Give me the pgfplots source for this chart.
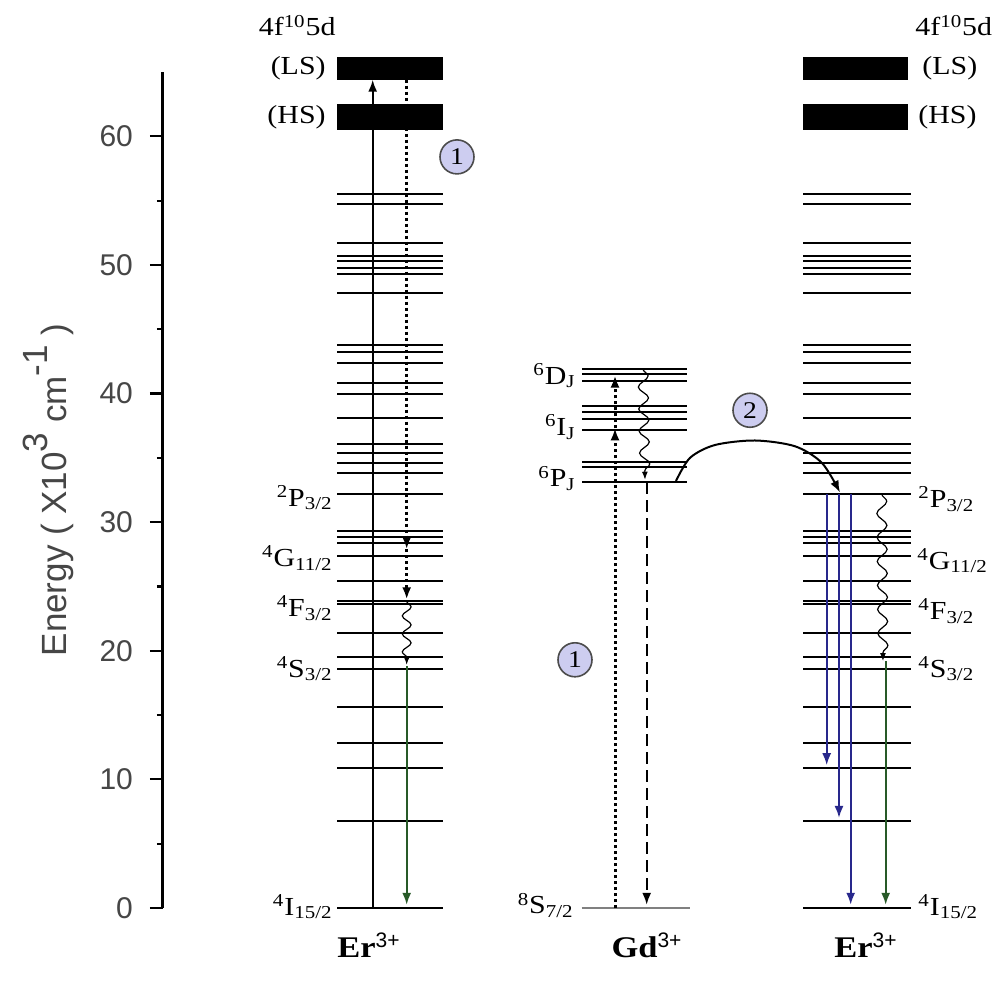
\documentclass[border=0pt]{standalone}
\usepackage{pgfplots}
\usepackage{pgfplotstable}
\pgfplotsset{compat=1.18}
\usepackage{fontspec}
\setmainfont[FakeStretch=1.15]{Liberation Serif}
\newfontfamily\arial{Liberation Sans}
\usetikzlibrary{arrows.meta,decorations.pathmorphing}
\definecolor{lav}{RGB}{205,205,240}
\definecolor{myblue}{RGB}{40,40,140}
\definecolor{mygreen}{RGB}{40,90,40}
\definecolor{txtgray}{RGB}{70,70,70}
\pgfplotstableread{
y
0
6.8
10.9
12.8
15.6
18.55
19.5
21.4
23.6
23.85
25.45
27.4
28.4
28.85
29.3
32.2
33.8
34.6
35.4
36.1
38.1
40.0
40.8
42.4
43.2
43.8
47.8
49.3
49.75
50.3
50.7
51.7
54.7
55.5
}\erlevels
\pgfplotstableread{
y
33.1
34.27
34.65
37.15
38.05
38.6
39.0
40.96
41.5
41.87
}\gdlevels
\begin{document}
\begin{tikzpicture}[
  lab/.style={font=\fontsize{13}{15}\selectfont, inner sep=0pt},
  ar/.style={-{Latex[length=6pt,width=4.5pt]}},
  dots/.style={line width=1.5pt, dash pattern=on 1.4pt off 1.6pt},
  wavy/.style={decorate, decoration={snake, amplitude=2.2pt, segment length=9pt, post length=3pt}},
  lvl/.style={only marks, mark=*, mark size=0pt, mark options={draw=none, fill=none}}]
\begin{axis}[
  scale only axis, width=419pt, height=418pt,
  xmin=163, xmax=1001, ymin=0, ymax=65,
  clip=false,
  axis x line=none, axis y line=left,
  axis line style={-, line width=1.5pt},
  ytick={0,10,...,60}, minor ytick={5,15,...,55},
  tick align=outside, major tick length=6.5pt, minor tick length=3pt,
  every tick/.style={line width=1.1pt, black},
  /pgf/number format/assume math mode=true,
  yticklabel style={font=\arial\fontsize{15}{17}\selectfont, text=txtgray, xshift=-5pt},
  ylabel={\arial Energy ( X10\raisebox{0.55em}{3} cm\raisebox{0.55em}{-1} )},
  ylabel style={font=\arial\fontsize{17.5}{20}\selectfont, text=txtgray, yshift=6pt},
]
\path (axis cs:0,70.6) rectangle (axis cs:1001,-5.91);
% Er levels (left and right), Gd levels
\addplot[lvl, error bars/.cd, x dir=both, x fixed=53, error mark=none,
  error bar style={black, line width=1pt}] table[x expr=390, y=y] {\erlevels};
\addplot[lvl, error bars/.cd, x dir=both, x fixed=54, error mark=none,
  error bar style={black, line width=1pt}] table[x expr=857, y=y] {\erlevels};
\addplot[lvl, error bars/.cd, x dir=both, x fixed=52.7, error mark=none,
  error bar style={black, line width=1pt}] table[x expr=634.3, y=y] {\gdlevels};
\addplot[gray, line width=1.1pt] coordinates {(581.7,0) (690,0)};
% 4f105d bands
\addplot[fill=black, draw=none] coordinates {(337,60.5) (443,60.5) (443,62.5) (337,62.5)};
\addplot[fill=black, draw=none] coordinates {(337,64.4) (443,64.4) (443,66.2) (337,66.2)};
\addplot[fill=black, draw=none] coordinates {(803,60.5) (908,60.5) (908,62.5) (803,62.5)};
\addplot[fill=black, draw=none] coordinates {(803,64.4) (908,64.4) (908,66.2) (803,66.2)};
% left Er transitions
\addplot[ar, line width=0.9pt] coordinates {(372.7,0) (372.7,64.4)};
\addplot[ar, dots] coordinates {(406.7,64.4) (406.7,27.9)};
\addplot[ar, dots] coordinates {(406.7,27.9) (406.7,24.0)};
\addplot[wavy, line width=0.6pt, -{Latex[length=4pt,width=3pt]}] coordinates {(406.7,23.85) (406.7,18.9)};
\addplot[ar, mygreen, line width=0.9pt] coordinates {(406.7,18.8) (406.7,0.25)};
% Gd transitions
\addplot[ar, dots] coordinates {(615,0) (615,37.3)};
\addplot[ar, dots] coordinates {(615,37.3) (615,41.4)};
\addplot[wavy, line width=0.6pt, decoration={amplitude=2.5pt, segment length=11pt}, -{Latex[length=4pt,width=3pt]}] coordinates {(643,41.9) (645,33.3)};
\addplot[ar, line width=0.9pt, dash pattern=on 6pt off 3pt] coordinates {(646.7,33.1) (646.7,0.25)};
% energy transfer
\addplot[ar, smooth, line width=1pt] coordinates {(676,33.2) (690,35.0) (715,36.0) (755,36.35) (795,35.9) (822,34.6) (840,32.3)};
% right Er transitions
\addplot[ar, myblue, line width=1pt] coordinates {(826.7,32.2) (826.7,11.1)};
\addplot[ar, myblue, line width=1pt] coordinates {(839,32.2) (839,7.0)};
\addplot[ar, myblue, line width=1pt] coordinates {(850.7,32.2) (850.7,0.25)};
\addplot[wavy, line width=0.6pt, decoration={amplitude=2.5pt, segment length=12pt}, -{Latex[length=4pt,width=3pt]}] coordinates {(881.7,32.2) (883,19.2)};
\addplot[ar, mygreen, line width=0.9pt] coordinates {(885.7,19.2) (885.7,0.25)};
% circled numbers
\node[circle, draw=black!70, line width=0.8pt, fill=lav, minimum size=17pt, inner sep=0pt, font=\fontsize{12}{14}\selectfont] at (axis cs:457,58.4) {1};
\node[circle, draw=black!70, line width=0.8pt, fill=lav, minimum size=17pt, inner sep=0pt, font=\fontsize{12}{14}\selectfont] at (axis cs:575,19.3) {1};
\node[circle, draw=black!70, line width=0.8pt, fill=lav, minimum size=17pt, inner sep=0pt, font=\fontsize{12}{14}\selectfont] at (axis cs:750,38.7) {2};
% left labels
\node[lab, anchor=east] at (axis cs:336,68.6) {4f\textsuperscript{10}5d};
\node[lab, anchor=east] at (axis cs:326,65.3) {(LS)};
\node[lab, anchor=east] at (axis cs:326,61.5) {(HS)};
\node[lab, anchor=east] at (axis cs:333,31.9) {\textsuperscript{2}P\textsubscript{3/2}};
\node[lab, anchor=east] at (axis cs:333,27.2) {\textsuperscript{4}G\textsubscript{11/2}};
\node[lab, anchor=east] at (axis cs:333,23.3) {\textsuperscript{4}F\textsubscript{3/2}};
\node[lab, anchor=east] at (axis cs:333,18.6) {\textsuperscript{4}S\textsubscript{3/2}};
\node[lab, anchor=east] at (axis cs:333,0.1) {\textsuperscript{4}I\textsubscript{15/2}};
% Gd labels
\node[lab, anchor=east] at (axis cs:576,41.4) {\textsuperscript{6}D\textsubscript{J}};
\node[lab, anchor=east] at (axis cs:576,37.4) {\textsuperscript{6}I\textsubscript{J}};
\node[lab, anchor=east] at (axis cs:576,33.4) {\textsuperscript{6}P\textsubscript{J}};
\node[lab, anchor=east] at (axis cs:574,0.2) {\textsuperscript{8}S\textsubscript{7/2}};
% right labels
\node[lab, anchor=west] at (axis cs:915,68.6) {4f\textsuperscript{10}5d};
\node[lab, anchor=west] at (axis cs:922,65.3) {(LS)};
\node[lab, anchor=west] at (axis cs:918,61.5) {(HS)};
\node[lab, anchor=west] at (axis cs:918,31.8) {\textsuperscript{2}P\textsubscript{3/2}};
\node[lab, anchor=west] at (axis cs:917,27.0) {\textsuperscript{4}G\textsubscript{11/2}};
\node[lab, anchor=west] at (axis cs:918,23.1) {\textsuperscript{4}F\textsubscript{3/2}};
\node[lab, anchor=west] at (axis cs:918,18.6) {\textsuperscript{4}S\textsubscript{3/2}};
\node[lab, anchor=west] at (axis cs:918,0.1) {\textsuperscript{4}I\textsubscript{15/2}};
% ion labels
\node[lab, font=\fontsize{15}{17}\selectfont] at (axis cs:369,-2.9) {\textbf{Er}\textsuperscript{\arial 3+}};
\node[lab, font=\fontsize{15}{17}\selectfont] at (axis cs:647,-2.9) {\textbf{Gd}\textsuperscript{\arial 3+}};
\node[lab, font=\fontsize{15}{17}\selectfont] at (axis cs:866,-2.9) {\textbf{Er}\textsuperscript{\arial 3+}};
\end{axis}
\end{tikzpicture}
\end{document}
